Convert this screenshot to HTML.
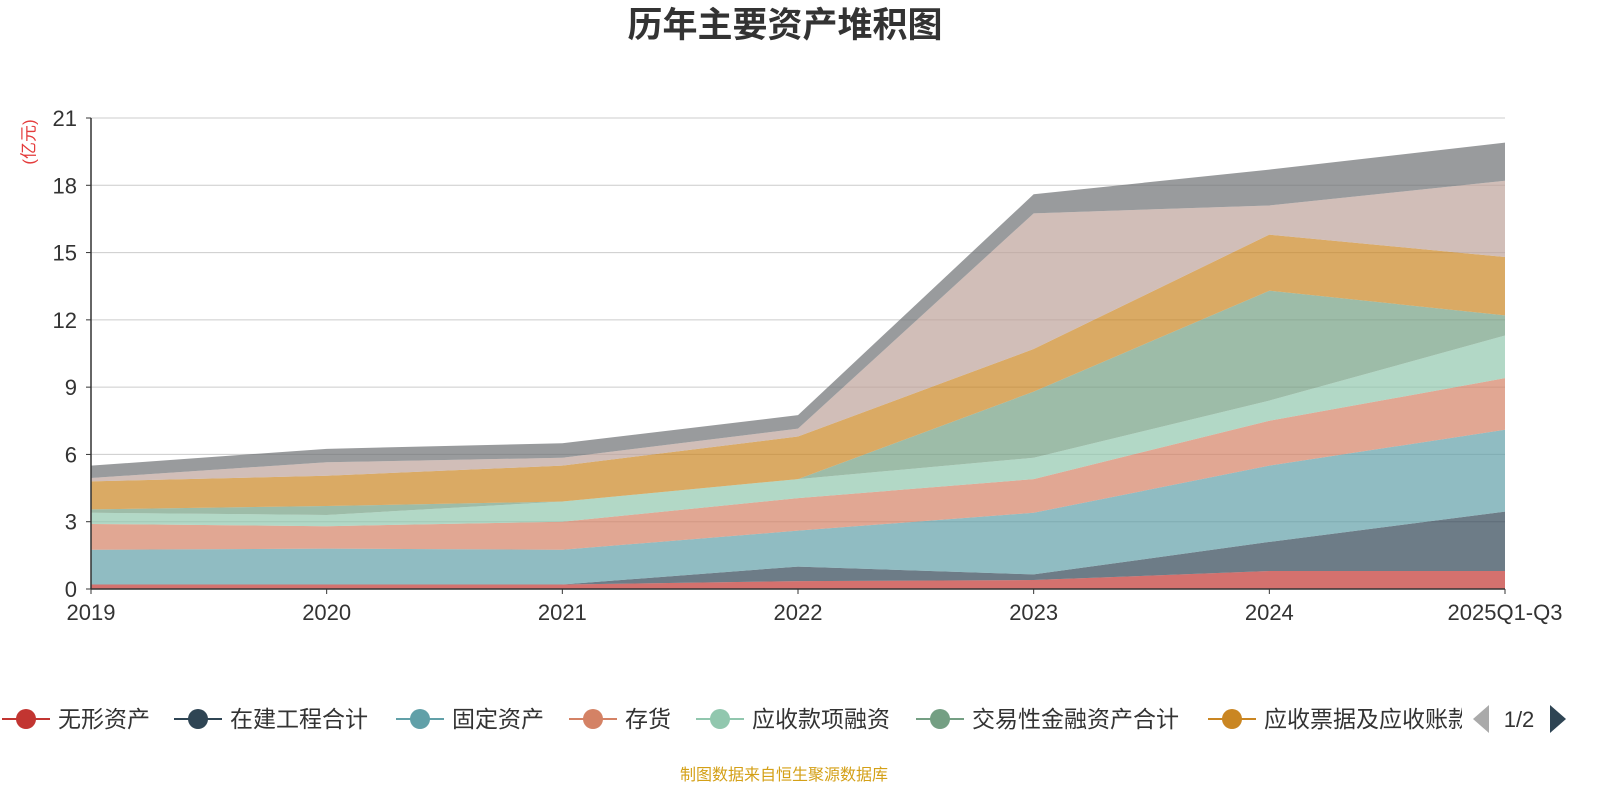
<!DOCTYPE html>
<html><head><meta charset="utf-8"><style>
body{margin:0;background:#fff;font-family:"Liberation Sans","Noto Sans CJK SC",sans-serif}
svg text{font-family:"Liberation Sans","Noto Sans CJK SC",sans-serif}
</style></head><body>
<svg id="c" width="1600" height="800" xmlns="http://www.w3.org/2000/svg">
<text x="785" y="37" text-anchor="middle" font-size="35" font-weight="bold" fill="#333">历年主要资产堆积图</text>
<text transform="translate(30,142) rotate(-90)" text-anchor="middle" font-size="17" fill="#e43c3c" dominant-baseline="middle">(亿元)</text>
<g id="grid"></g>
<g id="areas"></g>
<g id="axes"></g>
<g id="legend"></g>
<text x="784" y="780" text-anchor="middle" font-size="16" fill="#d4a017">制图数据来自恒生聚源数据库</text>
</svg>
<script>
const categories=["2019","2020","2021","2022","2023","2024","2025Q1-Q3"];
const seriesNames=["无形资产","在建工程合计","固定资产","存货","应收款项融资","交易性金融资产合计","应收票据及应收账款","其他资产","其他"];
const s1=[0.2,0.2,0.2,0.35,0.4,0.8,0.8];
const s2=[0,0,0,0.65,0.25,1.3,2.65];
const s3=[1.55,1.6,1.55,1.6,2.75,3.4,3.65];
const s4=[1.15,1.0,1.25,1.45,1.5,2.0,2.3];
const s5=[0.5,0.5,0.9,0.85,0.95,0.9,1.9];
const s6=[0.15,0.4,0,0,2.95,4.9,0.9];
const s7=[1.25,1.35,1.6,1.9,1.9,2.5,2.6];
const s8=[0.15,0.6,0.35,0.35,6.05,1.3,3.4];
const s9=[0.55,0.6,0.65,0.6,0.85,1.6,1.7];
const yTicks=[0,3,6,9,12,15,18,21];
const series=[s1,s2,s3,s4,s5,s6,s7,s8,s9];
const colors=["#c23531","#2f4554","#61a0a8","#d48265","#91c7ae","#749f83","#ca8622","#bda29a","#6e7074"];
const NS="http://www.w3.org/2000/svg";
const X0=91,X1=1505,Y0=589,Y1=118;
const x=i=>X0+(X1-X0)*i/(categories.length-1);
const y=v=>Y0-(Y0-Y1)*v/21;
function mk(t,a,p){const e=document.createElementNS(NS,t);for(const k in a)e.setAttribute(k,a[k]);p.appendChild(e);return e;}
const grid=document.getElementById('grid'),axes=document.getElementById('axes'),areas=document.getElementById('areas'),leg=document.getElementById('legend');
yTicks.forEach(t=>{
 if(t>0){const l=mk('line',{x1:X0,x2:X1,y1:y(t),y2:y(t),stroke:'#ccc','stroke-width':1},grid);
 }
 const tk=mk('line',{x1:X0-5,x2:X0,y1:y(t),y2:y(t),stroke:'#333'},axes);
 
 const tx=mk('text',{x:X0-14,y:y(t)+8,'text-anchor':'end','font-size':22,fill:'#333'},axes);tx.textContent=t;
 
});
let base=categories.map(()=>0);
series.forEach((s,k)=>{
 const top=base.map((b,i)=>b+s[i]);
 let d='M'+top.map((v,i)=>x(i)+','+y(v)).join(' L');
 for(let i=categories.length-1;i>=0;i--)d+=' L'+x(i)+','+y(base[i]);
 const p=mk('path',{d:d+'Z',fill:colors[k],'fill-opacity':0.7,stroke:'none'},areas);
 
 base=top;
});
const ax=mk('line',{x1:X0,x2:X1,y1:Y0,y2:Y0,stroke:'#333','stroke-width':1.5},axes);

const ay=mk('line',{x1:X0,x2:X0,y1:Y0,y2:Y1,stroke:'#333','stroke-width':1.5},axes);

categories.forEach((c,i)=>{
 const tk=mk('line',{x1:x(i),x2:x(i),y1:Y0,y2:Y0+5,stroke:'#333'},axes);
 
 const t=mk('text',{x:x(i),y:620,'text-anchor':'middle','font-size':22,fill:'#333'},axes);t.textContent=c;
 
});
const lx=[26,198,420,593,720,940,1232];
lx.forEach((cx,k)=>{
 const g=mk('g',{},leg);
 
 mk('line',{x1:cx-24,x2:cx+24,y1:719,y2:719,stroke:colors[k],'stroke-width':2},g);
 mk('circle',{cx:cx,cy:719,r:10,fill:colors[k]},g);
 const t=mk('text',{x:cx+32,y:727,'font-size':23,fill:'#333'},g);t.textContent=seriesNames[k];
});
const bg=mk('rect',{x:1462,y:695,width:138,height:50,fill:'#fff'},leg);

const pl=mk('path',{d:'M1473,719 L1489,705 L1489,733Z',fill:'#aaa'},leg);

const pt=mk('text',{x:1519,y:727,'text-anchor':'middle','font-size':22,fill:'#333'},leg);pt.textContent='1/2';

const pn=mk('path',{d:'M1566,719 L1550,705 L1550,733Z',fill:'#2f4554'},leg);

</script>
</body></html>
